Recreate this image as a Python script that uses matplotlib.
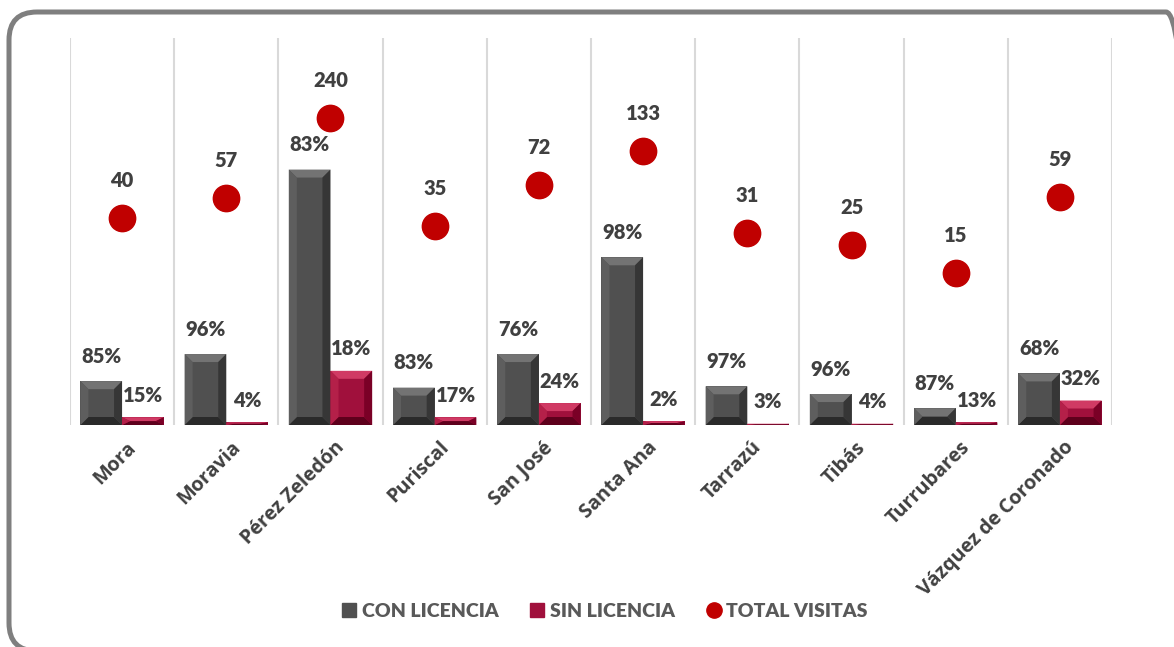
import numpy as np
import matplotlib.pyplot as plt
from matplotlib.patches import Polygon, FancyBboxPatch
from matplotlib.lines import Line2D

# Data
cantones = ['Mora', 'Moravia', 'Pérez Zeledón', 'Puriscal', 'San José',
            'Santa Ana', 'Tarrazú', 'Tibás', 'Turrubares', 'Vázquez de Coronado']
con_licencia = [34, 55, 198, 29, 55, 130, 30, 24, 13, 40]
sin_licencia = [6, 2, 42, 6, 17, 3, 1, 1, 2, 19]
total_visitas = [40, 57, 240, 35, 72, 133, 31, 25, 15, 59]
pct_con = ['85%', '96%', '83%', '83%', '76%', '98%', '97%', '96%', '87%', '68%']
pct_sin = ['15%', '4%', '18%', '17%', '24%', '2%', '3%', '4%', '13%', '32%']

txt_color = '#404040'
plt.rcParams['font.family'] = ['Lato', 'DejaVu Sans']

fig = plt.figure(figsize=(11.74, 6.47), dpi=100)
ax = fig.add_axes([0.0596, 0.3431, 0.8876, 0.5982])

x = np.arange(len(cantones))
w = 0.4

def bevel_bars(rects, light, side_l, side_r, dark):
  # fake the Excel bevel look with four trapezoids on each bar
  for r in rects:
    x0, w0, h = r.get_x(), r.get_width(), r.get_height()
    bx = min(0.077, w0 / 2)
    by = min(6.2, h / 2)
    faces = [
      ([(x0, h), (x0 + w0, h), (x0 + w0 - bx, h - by), (x0 + bx, h - by)], light),
      ([(x0, 0), (x0 + w0, 0), (x0 + w0 - bx, by), (x0 + bx, by)], dark),
      ([(x0, 0), (x0 + bx, by), (x0 + bx, h - by), (x0, h)], side_l),
      ([(x0 + w0, 0), (x0 + w0 - bx, by), (x0 + w0 - bx, h - by), (x0 + w0, h)], side_r),
    ]
    for pts, c in faces:
      ax.add_patch(Polygon(pts, closed=True, facecolor=c, edgecolor='none', zorder=3))

b1 = ax.bar(x - w / 2, con_licencia, w, color='#505050', zorder=2)
b2 = ax.bar(x + w / 2, sin_licencia, w, color='#A0103C', zorder=2)
bevel_bars(b1, '#737373', '#5e5e5e', '#363636', '#2a2a2a')
bevel_bars(b2, '#D03A64', '#B42049', '#7A0026', '#5E001C')

lbl = dict(fontsize=14.5, fontweight='heavy', color=txt_color, zorder=5)
for r, t in zip(b1, pct_con):
  ax.annotate(t, (r.get_x() + r.get_width() / 2, r.get_height()), xytext=(0, 11),
              textcoords='offset points', ha='center', va='bottom', **lbl)
for r, t in zip(b2, pct_sin):
  ax.annotate(t, (r.get_x() + r.get_width() / 2, r.get_height()), xytext=(0, 9),
              textcoords='offset points', ha='center', va='bottom', **lbl)

ax.set_ylim(0, 300)
ax.set_xlim(-0.5, len(cantones) - 0.5)
for b in np.arange(-0.5, len(cantones), 1):
  ax.axvline(b, color='#D9D9D9', lw=1.5, zorder=0)
for s in ax.spines.values():
  s.set_visible(False)
ax.set_yticks([])
ax.set_xticks(x + 0.04)
ax.set_xticklabels(cantones, rotation=45, ha='right', rotation_mode='anchor',
                   fontsize=14.2, fontweight='bold', color=txt_color,
                   family=['Open Sans', 'DejaVu Sans'])
ax.tick_params(axis='x', length=0, pad=9)

# Total visits on a log secondary axis
ax2 = ax.twinx()
ax2.set_yscale('log')
ax2.set_ylim(1, 1000)
ax2.scatter(x, total_visitas, s=360, color='#C00000', zorder=4)
for xi, v in zip(x, total_visitas):
  ax2.annotate(str(v), (xi, v), xytext=(0, 27), textcoords='offset points',
               ha='center', va='center', **lbl)
ax2.set_yticks([])
ax2.set_yticks([], minor=True)
for s in ax2.spines.values():
  s.set_visible(False)

handles = [
  Line2D([], [], ls='none', marker='s', ms=10, color='#505050'),
  Line2D([], [], ls='none', marker='s', ms=10, color='#A0103C'),
  Line2D([], [], ls='none', marker='o', ms=11, color='#C00000'),
]
leg = fig.legend(handles, ['CON LICENCIA', 'SIN LICENCIA', 'TOTAL VISITAS'],
                 loc='center', bbox_to_anchor=(0.515, 0.055), ncol=3, frameon=False,
                 prop={'weight': 'heavy', 'size': 14}, handletextpad=0.25,
                 columnspacing=1.6, handlelength=0.8)
for t in leg.get_texts():
  t.set_color('#595959')

# rounded frame around the chart (inches, runs off the right and bottom edges)
frame = FancyBboxPatch((0.09, -0.04), 11.85, 6.39, boxstyle='round,pad=0,rounding_size=0.28',
                       transform=fig.dpi_scale_trans, facecolor='none',
                       edgecolor='#7F7F7F', lw=3.6)
fig.patches.append(frame)

fig.savefig('out.png', dpi=100)
